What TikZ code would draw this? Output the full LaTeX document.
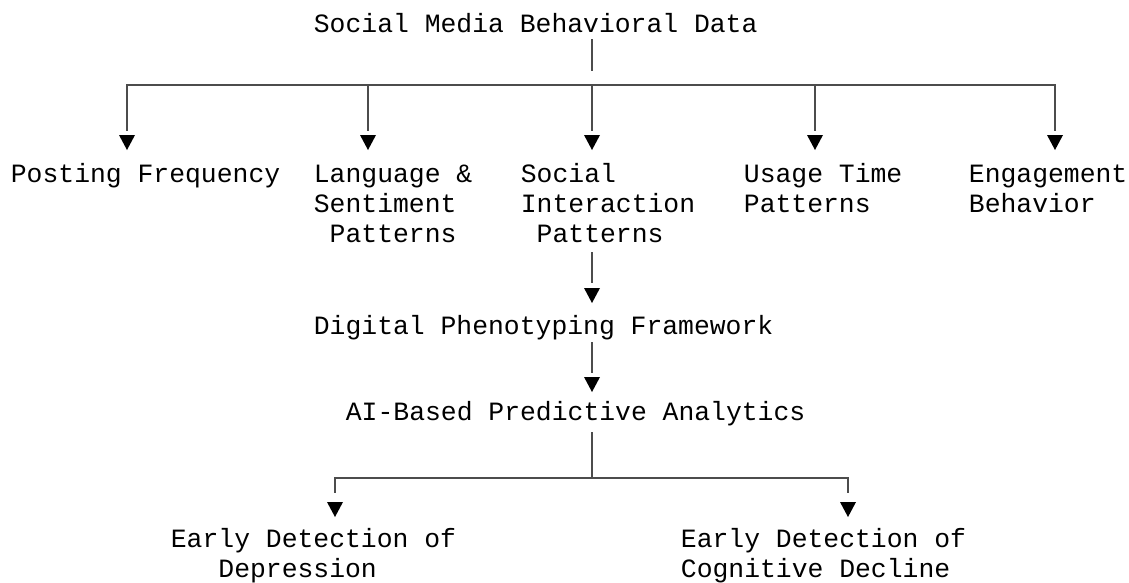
\documentclass[tikz,border=0pt]{standalone}
\usepackage{fontspec}
\setmonofont{Liberation Mono}
\usetikzlibrary{arrows.meta,decorations.markings}
\begin{document}
\begin{tikzpicture}[x=1pt,y=-1pt,line cap=rect,line width=1.8pt]
	\tikzset{lbl/.style={font=\ttfamily\fontsize{26.4pt}{30pt}\selectfont,inner sep=0pt,align=left,anchor=base west},
		ln/.style={draw=black!70},
		tip/.style={postaction={decorate,decoration={markings,
			mark=at position -#1 with {\arrow{Triangle[length=15pt,width=16pt,line width=0pt,color=black]}}}}}}
	\useasboundingbox (0,0) rectangle (1129,582);
	\node[lbl] (top) at (313,32) {Social Media Behavioral Data};
	\node[lbl] (post) at (10,182) {Posting Frequency};
	\node[lbl] (lang) at (313,242) {Language \&\\Sentiment\\\hspace*{.6em}Patterns};
	\node[lbl] (soc) at (520,242) {Social\\Interaction\\\hspace*{.6em}Patterns};
	\node[lbl] (use) at (743,212) {Usage Time\\Patterns};
	\node[lbl] (eng) at (968,212) {Engagement\\Behavior};
	\node[lbl] (dig) at (313,334) {Digital Phenotyping Framework};
	\node[lbl] (ai) at (345,420) {AI-Based Predictive Analytics};
	\node[lbl] (dep) at (170,577) {Early Detection of\\\hspace*{1.8em}Depression};
	\node[lbl] (cog) at (680,577) {Early Detection of\\Cognitive Decline};
	\foreach \x/\n [count=\i] in {127/post,368/lang,592/soc,815/use,1055/eng}{
		\coordinate (b\i) at (\x,85);
		\draw[ln,shorten >=52pt,tip=32pt] (b\i) -- (b\i |- post.base);
	}
	\draw[ln] (b1) -- (b5);
	\draw[ln,shorten <=8pt,shorten >=15pt] (top.base -| b3) -- (b3);
	\draw[ln,shorten <=11pt,shorten >=52pt,tip=31pt] (soc.base -| b3) -- (b3 |- dig.base);
	\draw[ln,shorten <=9pt,shorten >=48pt,tip=28pt] (dig.base -| b3) -- (b3 |- ai.base);
	\coordinate (m) at (592,478);
	\coordinate (d1) at (335,478);
	\coordinate (d2) at (848,478);
	\draw[ln,shorten <=13pt] (ai.base -| m) -- (m);
	\draw[ln] (d1) -- (d2);
	\draw[ln,shorten >=85pt,tip=60pt] (d1) -- (d1 |- dep.base);
	\draw[ln,shorten >=85pt,tip=60pt] (d2) -- (d2 |- cog.base);
\end{tikzpicture}
\end{document}
